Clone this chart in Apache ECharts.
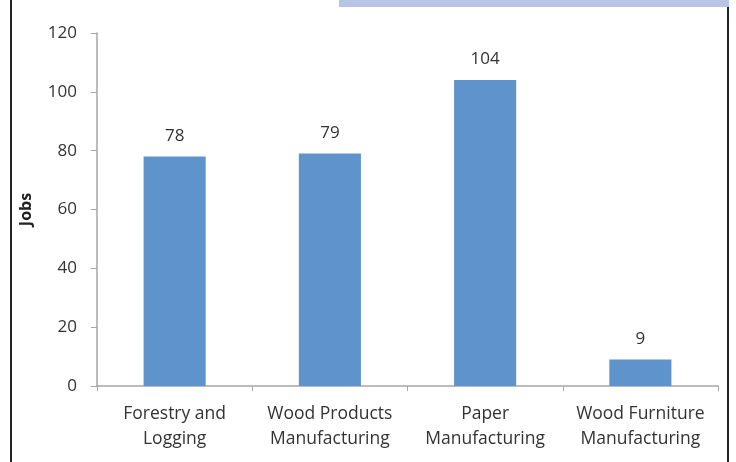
<!DOCTYPE html>
<html>
<head>
<meta charset="utf-8">
<script src="https://cdn.jsdelivr.net/npm/echarts@6/dist/echarts.min.js"></script>
<style>
html,body{margin:0;padding:0;background:#fff;}
#wrap{position:relative;width:736px;height:462px;overflow:hidden;}
#chart{position:absolute;left:0;top:0;width:736px;height:462px;}
#lb{position:absolute;left:10px;top:0;width:2px;height:462px;background:#222;}
#rb{position:absolute;left:727px;top:7px;width:2px;height:455px;background:#222;}
#band{position:absolute;left:339px;top:0;width:390px;height:7px;background:#b8c4e4;}
</style>
</head>
<body>
<div id="wrap">
<div id="chart"></div>
<div id="lb"></div><div id="rb"></div><div id="band"></div>
</div>
<script>
const categories = ["Forestry and\nLogging", "Wood Products\nManufacturing", "Paper\nManufacturing", "Wood Furniture\nManufacturing"];
const jobs = [78, 79, 104, 9];
const yTicks = [0, 20, 40, 60, 80, 100, 120];

const chart = echarts.init(document.getElementById('chart'), null, {renderer: 'canvas'});
const font = "'Open Sans', 'Noto Sans', sans-serif";
chart.setOption({
  animation: false,
  backgroundColor: '#ffffff',
  grid: {left: 97, right: 18, top: 33, bottom: 76, containLabel: false},
  xAxis: {
    type: 'category',
    data: categories,
    axisLine: {lineStyle: {color: '#a6a6a6', width: 1.5}},
    axisTick: {show: true, alignWithLabel: false, length: 5, lineStyle: {color: '#a6a6a6'}},
    axisLabel: {color: '#333', fontFamily: font, fontSize: 17.5, lineHeight: 25, margin: 16, interval: 0}
  },
  yAxis: {
    type: 'value',
    min: yTicks[0],
    max: yTicks[yTicks.length - 1],
    interval: 20,
    name: 'Jobs',
    nameLocation: 'middle',
    nameGap: 63,
    nameRotate: 90,
    nameTextStyle: {fontFamily: font, fontSize: 16, fontWeight: 'bold', color: '#222'},
    splitLine: {show: false},
    axisLine: {show: true, lineStyle: {color: '#a6a6a6', width: 1.5}},
    axisTick: {show: true, length: 6, lineStyle: {color: '#a6a6a6'}},
    axisLabel: {color: '#333', fontFamily: font, fontSize: 17, margin: 20}
  },
  series: [{
    type: 'bar',
    data: jobs,
    barWidth: '40%',
    itemStyle: {color: '#5e93cb'},
    label: {show: true, position: 'top', distance: 12, color: '#333', fontFamily: font, fontSize: 17}
  }]
});
</script>
</body>
</html>
